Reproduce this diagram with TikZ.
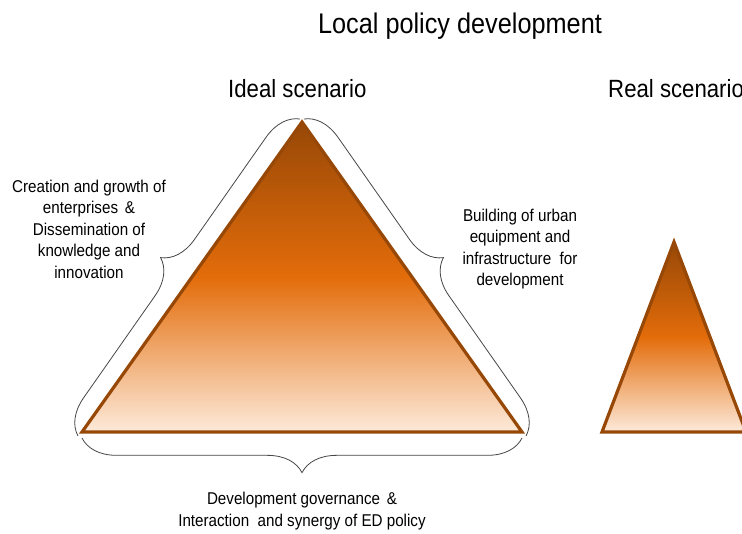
\documentclass[tikz,border=0pt]{standalone}
\usepackage{fontspec}
\setmainfont{Liberation Sans}
\usetikzlibrary{decorations.pathreplacing}
\definecolor{tridark}{RGB}{151,72,7}
\definecolor{triorange}{RGB}{227,108,10}
\definecolor{tripeach}{RGB}{253,234,218}
\definecolor{bracegray}{RGB}{70,70,70}
\begin{document}
\begin{tikzpicture}[x=0.75pt,y=-0.75pt,
  tri/.style={draw=tridark, line width=2.4pt, line join=miter,
    top color=tridark, bottom color=tripeach, middle color=triorange},
  bracelabel/.style={decorate, decoration={brace, amplitude=26pt},
    draw=bracegray, line width=0.6pt},
  titletext/.style={font=\fontsize{21.3}{25}\selectfont, inner sep=0pt, xscale=0.89},
  scentext/.style={font=\fontsize{18.7}{22}\selectfont, inner sep=0pt, xscale=0.89},
  sidetext/.style={font=\fontsize{12.8}{16.1}\selectfont, inner sep=0pt, xscale=0.89, align=center}]
\useasboundingbox (0,0) rectangle (742,533);
\fill[white] (0,0) rectangle (742,533);
\clip (0,0) rectangle (742,533);

% titles
\node[titletext, anchor=base] (ttl) at (460,33) {Local policy development};
\node[scentext, anchor=base west] (ideal) at (228,97) {Ideal scenario};
\node[scentext, anchor=base west] (real) at (608,97) {Real scenario};

% ideal triangle
\coordinate (iA) at (302,122);
\coordinate (iL) at (82,432);
\coordinate (iR) at (522,432);
\draw[tri] (iA) -- (iR) -- (iL) -- cycle;

% real triangle
\coordinate (rA) at (674,242);
\coordinate (rL) at (602,432);
\coordinate (rR) at (746,432);
\draw[tri] (rA) -- (rR) -- (rL) -- cycle;

% braces
\coordinate (bl1) at (78,436);
\coordinate (bl2) at (300,119);
\coordinate (br1) at (304,119);
\coordinate (br2) at (526,436);
\coordinate (bb1) at (522,438);
\coordinate (bb2) at (82,438);
\draw[bracelabel] (bl1) -- (bl2);
\draw[bracelabel] (br1) -- (br2);
\draw[bracelabel] (bb1) -- (bb2);

% labels
\node[sidetext] (lefttxt) at (89,229) {Creation and growth of\\enterprises \,\&\\Dissemination of\\knowledge and\\innovation};
\node[sidetext] (righttxt) at (520,249) {Building of urban\\equipment and\\infrastructure \ for\\development};
\node[sidetext] (bottomtxt) at (302,511) {Development governance \,\&\\Interaction \ and synergy of ED policy};
\end{tikzpicture}
\end{document}
